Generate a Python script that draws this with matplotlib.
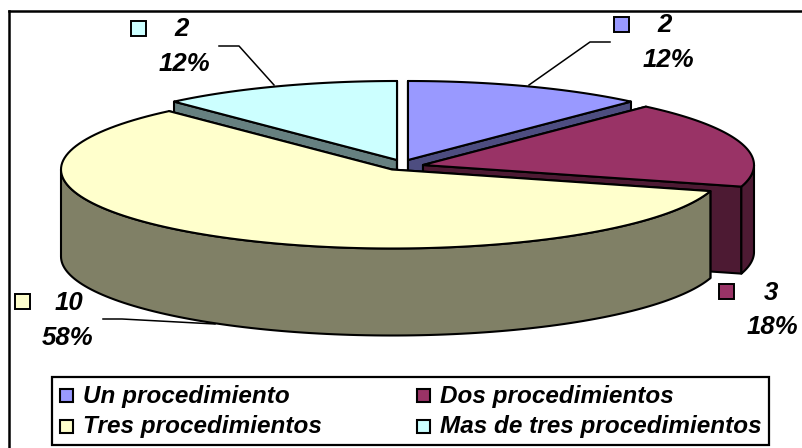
import numpy as np
import matplotlib
matplotlib.use("Agg")
import matplotlib.pyplot as plt
from matplotlib.patches import Polygon, Rectangle

# Survey results
categories = ["Un procedimiento", "Dos procedimientos", "Tres procedimientos", "Mas de tres procedimientos"]
values = [2, 3, 10, 2]
percent_labels = ["12%", "18%", "58%", "12%"]
top_colors = ["#9999FF", "#993366", "#FFFFCC", "#CCFFFF"]
side_colors = ["#4D4D80", "#4D1A33", "#808066", "#668080"]

# Layout of the tilted pie, in pixels
centers = [(408, 160), (423, 165), (392, 169.5), (397, 160)]
RX, RY, DEPTH = 331, 79, 87
LW = 1.5

plt.rcParams["font.family"] = ["Liberation Sans", "DejaVu Sans"]
fig = plt.figure(figsize=(8.03, 4.48), dpi=100)
ax = fig.add_axes([0, 0, 1, 1])
ax.set_xlim(0, 803)
ax.set_ylim(448, 0)
ax.axis("off")

# Frame runs off the right and bottom edges
ax.plot([9, 9], [448, 11], color="black", lw=1.8, zorder=1)
ax.plot([9, 803], [11, 11], color="black", lw=1.8, zorder=1)


def rim(cx, cy, a0, a1, n=120):
    t = np.linspace(a0, a1, n)
    return np.column_stack([cx + RX * np.sin(t), cy - RY * np.cos(t)])


def face(points, color, zorder):
    ax.add_patch(Polygon(points, closed=True, facecolor=color, edgecolor="black",
                         lw=LW, joinstyle="round", zorder=zorder))


edges = np.concatenate([[0], np.cumsum(values)]) / np.sum(values) * 2 * np.pi
down = np.array([0, DEPTH])

# Back slices go first so the front ones overlap them
for z, i in enumerate([3, 0, 1, 2]):
    cx, cy = centers[i]
    a0, a1 = edges[i], edges[i + 1]
    apex = np.array([cx, cy])
    base_z = 2 + z * 2
    for angle in (a0, a1):
        corner = rim(cx, cy, angle, angle, 1)[0]
        face([apex, corner, corner + down, apex + down], side_colors[i], base_z)
    lo, hi = max(a0, np.pi / 2), min(a1, 3 * np.pi / 2)
    if lo < hi:
        arc = rim(cx, cy, lo, hi)
        face(np.vstack([arc, (arc + down)[::-1]]), side_colors[i], base_z)
    face(np.vstack([apex[None, :], rim(cx, cy, a0, a1)]), top_colors[i], base_z + 1)

# Data labels: swatch, count, percentage, optional leader line
swatches = [(614, 17), (719, 284), (15, 294), (131, 21)]
count_pos = [(665, 25), (771, 293), (69, 303), (182, 29)]
pct_pos = [(668, 60), (772, 327), (68, 338), (184, 64)]
leaders = [
    ([610, 590, 529], [42, 42, 85]),
    None,
    ([103, 122, 215], [319, 319, 324]),
    ([219, 239, 274], [46, 46, 85]),
]
label_style = dict(fontsize=18.5, fontweight="bold", fontstyle="italic", color="black",
                   ha="center", va="center", zorder=20)
for i in range(len(values)):
    ax.add_patch(Rectangle(swatches[i], 15, 15, facecolor=top_colors[i], edgecolor="black",
                           lw=1.4, zorder=20))
    ax.text(*count_pos[i], str(values[i]), **label_style)
    ax.text(*pct_pos[i], percent_labels[i], **label_style)
    if leaders[i]:
        ax.plot(*leaders[i], color="black", lw=1.1, zorder=20)

# Legend box with two rows and two columns
ax.add_patch(Rectangle((52, 377), 717, 68, facecolor="white", edgecolor="black", lw=1.6, zorder=21))
legend_x = [60, 417, 60, 417]
legend_y = [396, 396, 427, 427]
for i, name in enumerate(categories):
    ax.add_patch(Rectangle((legend_x[i], legend_y[i] - 6.5), 13, 13, facecolor=top_colors[i],
                           edgecolor="black", lw=1.5, zorder=22))
    ax.text(legend_x[i] + 23, legend_y[i], name, fontsize=17.5, fontweight="bold",
            fontstyle="italic", ha="left", va="center", zorder=22)

fig.savefig("out.png", dpi=100, facecolor="white")
